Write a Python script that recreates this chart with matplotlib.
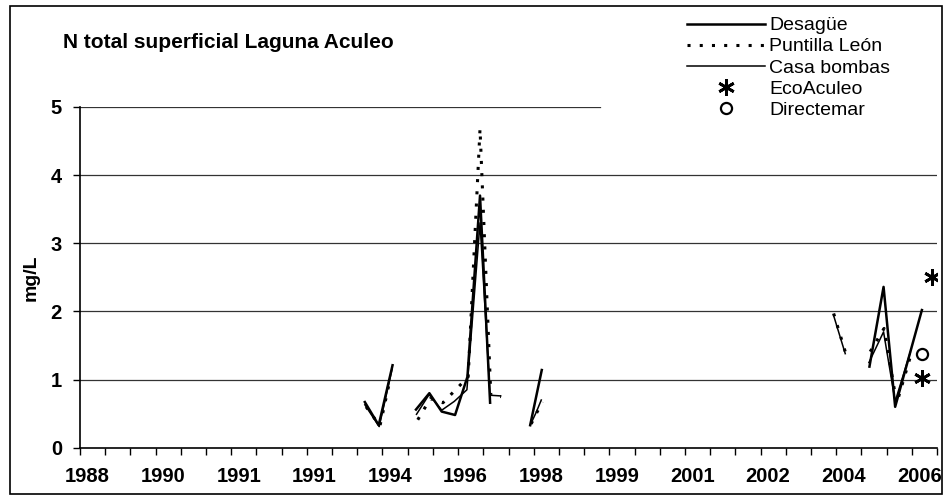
import numpy as np
import matplotlib
matplotlib.use('Agg')
import matplotlib.pyplot as plt
from matplotlib.patches import Rectangle

plt.rcParams['font.family'] = ['Liberation Sans', 'DejaVu Sans']

nan = np.nan

# x positions are in category units of the original axis (tick every 1 unit)
x_labels = ['1988', '1990', '1991', '1991', '1994', '1996', '1998', '1999',
            '2001', '2002', '2004', '2006']

desague_x = [11.3, 11.85, 12.4, nan, 13.33, 13.86, 14.35, 14.88, 15.37, 15.87, 16.27,
             nan, 17.86, 18.32, nan, 31.32, 31.88, 32.34, 33.4]
desague_y = [0.67, 0.33, 1.21, nan, 0.56, 0.80, 0.53, 0.48, 1.04, 3.7, 0.66,
             nan, 0.33, 1.14, nan, 1.19, 2.36, 0.60, 2.02]

puntilla_x = [11.35, 11.9, 12.3, nan, 13.4, 13.9, 14.4, 14.9, 15.4, 15.87, 16.3, 16.7,
              nan, 17.9, 18.1, 18.35, nan, 29.9, 30.4, nan, 31.35, 31.9, 32.4, 33.0]
puntilla_y = [0.60, 0.32, 1.00, nan, 0.41, 0.72, 0.66, 0.85, 1.04, 4.68, 0.76, 0.75,
              nan, 0.35, 0.50, 0.67, nan, 1.97, 1.36, nan, 1.41, 1.75, 0.65, 1.41]

casa_x = [11.3, 11.87, 12.38, nan, 13.35, 13.85, 14.35, 14.85, 15.35, 15.87, 16.27, 16.69,
          nan, 17.86, 18.1, 18.3, nan, 29.89, 30.36, nan, 31.3, 31.88, 32.34, 32.94]
casa_y = [0.63, 0.31, 1.15, nan, 0.49, 0.78, 0.55, 0.68, 0.85, 3.3, 0.77, 0.76,
          nan, 0.33, 0.52, 0.70, nan, 1.95, 1.38, nan, 1.25, 1.70, 0.68, 1.40]

eco_x = [33.8, 33.4]
eco_y = [2.51, 1.02]

dir_x = [33.4]
dir_y = [1.38]

fig = plt.figure(figsize=(9.44, 4.98), dpi=100)
ax = fig.add_axes([80 / 944, 1 - 447.7 / 498, (937 - 80) / 944, (447.7 - 107) / 498])

# gridlines (top one hidden behind the legend box in the original)
for g in [1, 2, 3, 4]:
    ax.axhline(g, color='#333333', lw=0.9, zorder=1)
ax.axhline(5, xmax=(600 - 80) / (937 - 80), color='#333333', lw=0.9, zorder=1)

ax.plot(desague_x, desague_y, color='black', lw=1.8, label='Desagüe', zorder=3)
ax.plot(puntilla_x, puntilla_y, color='black', lw=2.2, linestyle=(0, (1, 3)),
        label='Puntilla León', zorder=4)
ax.plot(casa_x, casa_y, color='black', lw=1.1, label='Casa bombas', zorder=3)
ax.plot(eco_x, eco_y, linestyle='none', marker=(6, 2, 0), markersize=12,
        markeredgewidth=2, color='black', label='EcoAculeo', zorder=5)
ax.plot(dir_x, dir_y, linestyle='none', marker='o', markersize=8,
        markerfacecolor='white', markeredgecolor='black', markeredgewidth=1.6,
        label='Directemar', zorder=5)

ax.set_xlim(0, 34)
ax.set_ylim(0, 5)
ax.set_yticks([0, 1, 2, 3, 4, 5])
ax.set_xticks(np.arange(0, 35))
ax.set_xticklabels([])
ax.set_xticks(0.3 + 3 * np.arange(len(x_labels)), x_labels, minor=True)
ax.tick_params(axis='x', which='major', direction='out', length=5, width=1)
ax.tick_params(axis='x', which='minor', length=0, pad=14, labelsize=14.5)
ax.tick_params(axis='y', direction='out', length=5, width=1, pad=8, labelsize=14.5)
for lab in ax.get_yticklabels() + ax.get_xticklabels(minor=True):
    lab.set_fontweight('bold')

for s in ['top', 'right']:
    ax.spines[s].set_visible(False)
ax.spines['left'].set_linewidth(1.2)
ax.spines['bottom'].set_linewidth(1.2)

ax.set_ylabel('mg/L', fontsize=14, fontweight='bold', labelpad=8)

fig.text(63 / 944, 1 - 43 / 498, 'N total superficial Laguna Aculeo', fontsize=15,
         fontweight='bold', ha='left', va='center')

leg = ax.legend(loc='upper left', bbox_to_anchor=(680 / 944, 0.98),
                bbox_transform=fig.transFigure, frameon=True, fontsize=14,
                handlelength=4.0, handletextpad=0.25, labelspacing=0.18,
                borderpad=0.35, borderaxespad=0, fancybox=False)
leg.get_frame().set_facecolor('white')
leg.get_frame().set_edgecolor('none')

# outer chart border
fig.add_artist(Rectangle((10 / 944, 4 / 498), 932 / 944, 488 / 498,
                         transform=fig.transFigure, fill=False,
                         edgecolor='black', lw=1.2))

fig.savefig('out.png', dpi=100)
